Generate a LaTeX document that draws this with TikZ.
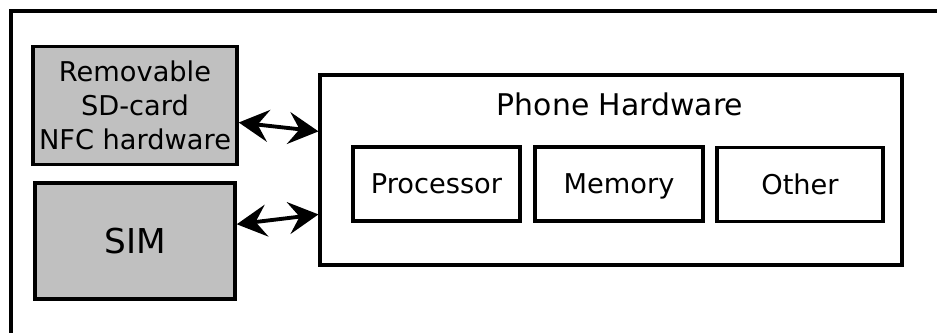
\documentclass[tikz,border=0pt]{standalone}
\usepackage{fontspec}
\setmainfont{DejaVu Sans}
\usetikzlibrary{arrows.meta,calc}
\definecolor{cardgray}{RGB}{192,192,192}

\begin{document}
\begin{tikzpicture}[x=0.02cm,y=-0.02cm,
  part/.style={draw=black,line width=2pt,align=center,inner sep=0pt},
  ext/.style={part,fill=cardgray},
  sub/.style={part,minimum height=1.48cm,font=\fontsize{15.5}{17}\selectfont,
              text height=11.3pt,text depth=0pt},
  link/.style={{Stealth[length=6mm,width=6.4mm,inset=2.2mm]}-{Stealth[length=6mm,width=6.4mm,inset=2.2mm]},
               line width=2.2pt}]
\clip (0,0) rectangle (937,333);
\useasboundingbox (0,0) rectangle (937,333);

% ------------- frame -------------
\draw[line width=2.2pt] (11,11) rectangle (980,380);

% ------------- external parts -------------
\node[ext,minimum width=4.08cm,minimum height=2.36cm,
      font=\fontsize{15.5}{19.3}\selectfont] (rem) at (135,105.5)
  {Removable\\SD-card\\NFC hardware};
\node[ext,minimum width=4.0cm,minimum height=2.32cm,
      font=\fontsize{19.5}{22}\selectfont,text height=14.2pt,text depth=0pt] (sim) at (135,241) {SIM};

% ------------- phone -------------
\node[part,line width=1.8pt,minimum width=11.64cm,minimum height=3.8cm] (phone) at (611,170) {};
\node[font=\fontsize{17}{19}\selectfont,text height=12.4pt,text depth=0pt] (title) at (620,105) {Phone Hardware};
\node[sub,minimum width=3.34cm] (cpu) at (436.5,184) {Processor};
\node[sub,minimum width=3.36cm] (mem) at (619,184) {Memory};
\node[sub,minimum width=3.32cm] (other) at (800,184.5) {Other};

% ------------- links -------------
\draw[link] ($(rem.north east)!0.64!(rem.south east)$)
  -- ($(phone.north west)!0.30!(phone.south west)$);
\draw[link] ($(sim.north east)!0.36!(sim.south east)$)
  -- ($(phone.north west)!0.73!(phone.south west)$);
\end{tikzpicture}
\end{document}
